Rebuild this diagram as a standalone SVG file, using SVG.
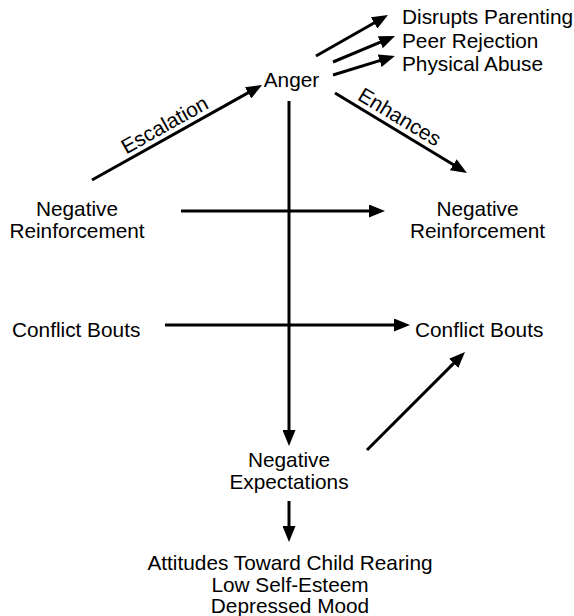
<svg xmlns="http://www.w3.org/2000/svg" width="574" height="616" viewBox="0 0 574 616">
  <style>
    text { font-family: "Liberation Sans", Arial, sans-serif; font-size: 20.8px; fill: #000; }
    .c { text-anchor: middle; }
    .edge { stroke: #000; stroke-width: 3; fill: none; marker-end: url(#head); }
  </style>
  <defs>
    <marker id="head" markerUnits="userSpaceOnUse" markerWidth="16" markerHeight="13" refX="6" refY="6.5" orient="auto">
      <path d="M0,0 L16,6.5 L0,13 Z" fill="#000"/>
    </marker>
  </defs>
  <rect width="574" height="616" fill="#fff"/>

  <g id="connectors">
    <line class="edge" x1="316" y1="56" x2="379.3" y2="20"/>
    <line class="edge" x1="333" y1="62" x2="385.8" y2="39.9"/>
    <line class="edge" x1="333" y1="75" x2="385.4" y2="58.9"/>
    <line class="edge" x1="92" y1="180" x2="253.3" y2="89.9"/>
    <line class="edge" x1="335" y1="93" x2="458.4" y2="167.8"/>
    <line class="edge" x1="289" y1="101" x2="289" y2="436"/>
    <line class="edge" x1="181" y1="211" x2="375" y2="211"/>
    <line class="edge" x1="165" y1="325" x2="400" y2="325"/>
    <line class="edge" x1="367" y1="450" x2="457.9" y2="359.1"/>
    <line class="edge" x1="289" y1="501" x2="289" y2="532"/>
    <text class="c" transform="translate(168,131) rotate(-29.2)">Escalation</text>
    <text class="c" transform="translate(396,123) rotate(31.2)">Enhances</text>
  </g>

  <g id="anger"><text class="c" x="291.5" y="87">Anger</text></g>
  <g id="outcomes">
    <text x="402" y="24">Disrupts Parenting</text>
    <text x="402" y="47.5">Peer Rejection</text>
    <text x="402" y="71">Physical Abuse</text>
  </g>
  <g id="neg-reinf-left">
    <text class="c" x="77" y="216">Negative</text>
    <text class="c" x="77" y="238">Reinforcement</text>
  </g>
  <g id="neg-reinf-right">
    <text class="c" x="477.5" y="216">Negative</text>
    <text class="c" x="477.5" y="238">Reinforcement</text>
  </g>
  <g id="conflict-left"><text x="12" y="337">Conflict Bouts</text></g>
  <g id="conflict-right"><text x="415" y="337">Conflict Bouts</text></g>
  <g id="neg-expectations">
    <text class="c" x="289" y="467">Negative</text>
    <text class="c" x="289" y="489">Expectations</text>
  </g>
  <g id="consequences">
    <text class="c" x="290" y="570">Attitudes Toward Child Rearing</text>
    <text class="c" x="290" y="592">Low Self-Esteem</text>
    <text class="c" x="290" y="613">Depressed Mood</text>
  </g>
</svg>
